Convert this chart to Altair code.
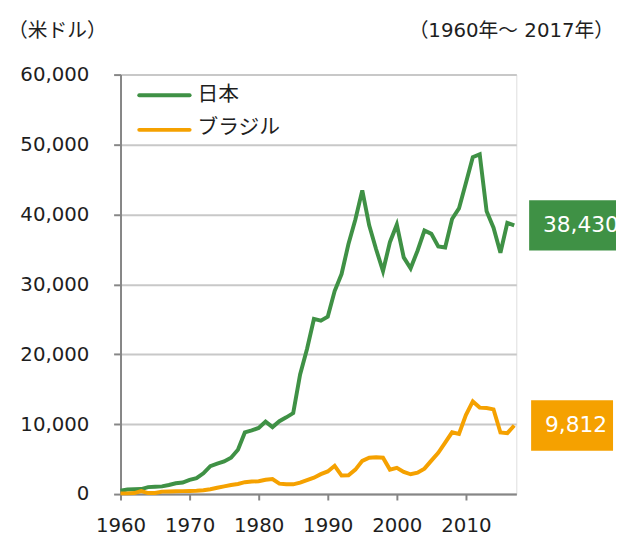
import altair as alt
import pandas as pd

years = list(range(1960, 2018))
japan = [479, 650, 700, 720, 1000, 1050, 1100, 1300, 1550, 1650,
         2040, 2270, 2970, 4000, 4350, 4660, 5200, 6340, 8820, 9100,
         9460, 10360, 9580, 10430, 10980, 11580, 17110, 20750, 25050, 24810,
         25360, 29040, 31470, 35770, 39270, 43440, 38440, 35020, 31900, 36030,
         38530, 33850, 32290, 34810, 37690, 37220, 35430, 35280, 39340, 40860,
         44510, 48170, 48600, 40450, 38110, 34520, 38790, 38430]
brazil = [100, 100, 150, 420, 150, 150, 350, 380, 400, 420,
          440, 480, 560, 700, 900, 1100, 1300, 1450, 1700, 1800,
          1830, 2050, 2150, 1500, 1400, 1400, 1650, 2000, 2350, 2850,
          3240, 4040, 2650, 2700, 3500, 4750, 5200, 5280, 5200, 3500,
          3750, 3160, 2830, 3070, 3640, 4790, 5890, 7350, 8830, 8600,
          11290, 13250, 12370, 12300, 12110, 8810, 8710, 9812]
series_names = ["日本", "ブラジル"]
x_ticks = [1960, 1970, 1980, 1990, 2000, 2010]
y_ticks = [0, 10000, 20000, 30000, 40000, 50000, 60000]
unit_label = "（米ドル）"
period_label = "（1960年～ 2017年）"

GREEN = "#3F9145"
ORANGE = "#F5A100"
FONT = "DejaVu Sans, Noto Sans CJK JP"
TXT = "#1E1E1E"
AXIS = "#868686"

df_jp = pd.DataFrame({"year": years, "value": japan, "series": series_names[0]})
df_br = pd.DataFrame({"year": years, "value": brazil, "series": series_names[1]})

xscale = alt.Scale(domain=[1960, 2017.3], nice=False, zero=False)
yscale = alt.Scale(domain=[0, 60000], nice=False)

xenc = alt.X("year:Q", scale=xscale,
             axis=alt.Axis(values=x_ticks, format="d", title=None, grid=False,
                           labelFontSize=20, labelFont=FONT, labelColor=TXT,
                           tickSize=6, tickWidth=2, tickColor=AXIS,
                           domainColor=AXIS, domainWidth=2, labelPadding=16,
                           labelFlush=False))
yenc = alt.Y("value:Q", scale=yscale,
             axis=alt.Axis(values=y_ticks, format=",d", title=None, grid=True,
                           gridColor="#C8C8C8", gridWidth=2,
                           labelFontSize=20, labelFont=FONT, labelColor=TXT,
                           tickSize=7, tickWidth=2, tickColor=AXIS,
                           domainColor=AXIS, domainWidth=2, labelPadding=25))

line_jp = alt.Chart(df_jp).mark_line(color=GREEN, strokeWidth=4).encode(x=xenc, y=yenc)
line_br = alt.Chart(df_br).mark_line(color=ORANGE, strokeWidth=4).encode(x="year:Q", y="value:Q")

last_jp = df_jp.tail(1)
last_br = df_br.tail(1)

box_jp = alt.Chart(last_jp).mark_rect(color=GREEN, height=51).encode(
    x=alt.value(414), x2=alt.value(510), y="value:Q")
box_br = alt.Chart(last_br).mark_rect(color=ORANGE, height=51).encode(
    x=alt.value(416), x2=alt.value(499), y="value:Q")
lab_jp = alt.Chart(last_jp).mark_text(color="white", fontSize=22, font=FONT,
                                      align="left", baseline="middle").encode(
    x=alt.value(428), y="value:Q", text=alt.Text("value:Q", format=",d"))
lab_br = alt.Chart(last_br).mark_text(color="white", fontSize=22, font=FONT,
                                      align="left", baseline="middle").encode(
    x=alt.value(430), y="value:Q", text=alt.Text("value:Q", format=",d"))

leg_df = pd.DataFrame({"series": series_names})
leg_line_jp = alt.Chart(leg_df.head(1)).mark_rule(color=GREEN, strokeWidth=4, strokeCap="round").encode(
    x=alt.value(19), x2=alt.value(70), y=alt.value(21))
leg_line_br = alt.Chart(leg_df.tail(1)).mark_rule(color=ORANGE, strokeWidth=4, strokeCap="round").encode(
    x=alt.value(19), x2=alt.value(70), y=alt.value(56))
leg_txt_jp = alt.Chart(leg_df.head(1)).mark_text(fontSize=21, font=FONT, color=TXT,
                                                 align="left", baseline="middle").encode(
    x=alt.value(78), y=alt.value(21), text="series:N")
leg_txt_br = alt.Chart(leg_df.tail(1)).mark_text(fontSize=21, font=FONT, color=TXT,
                                                 align="left", baseline="middle").encode(
    x=alt.value(78), y=alt.value(54), text="series:N")

ann_df = pd.DataFrame({"unit": [unit_label], "period": [period_label]})
ann_unit = alt.Chart(ann_df).mark_text(fontSize=20, font=FONT, color=TXT,
                                       align="left", baseline="middle").encode(
    x=alt.value(-114), y=alt.value(-44), text="unit:N")
ann_period = alt.Chart(ann_df).mark_text(fontSize=20, font=FONT, color=TXT,
                                         align="right", baseline="middle").encode(
    x=alt.value(500), y=alt.value(-44), text="period:N")

chart = alt.layer(
    line_jp, line_br, box_jp, box_br, lab_jp, lab_br,
    leg_line_jp, leg_line_br, leg_txt_jp, leg_txt_br, ann_unit, ann_period
).properties(
    width=401, height=425,
    padding={"left": 114, "top": 64, "right": 101, "bottom": 39},
    autosize=alt.AutoSizeParams(type="none"),
).configure_view(stroke=None).configure(background="white")

chart.save("out.html", embed_options={"renderer": "svg", "actions": False})
